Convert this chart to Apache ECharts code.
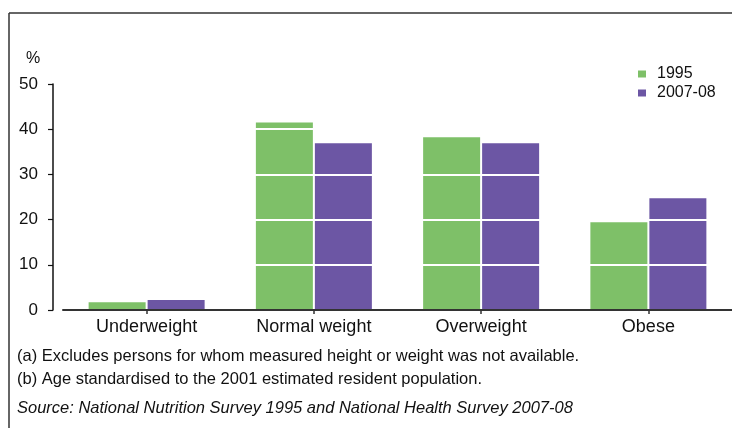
<!DOCTYPE html>
<html>
<head>
<meta charset="utf-8">
<script src="https://cdn.jsdelivr.net/npm/echarts@6/dist/echarts.min.js"></script>
<style>
  html, body { margin: 0; padding: 0; background: #fff; }
  #chart { width: 732px; height: 428px; }
</style>
</head>
<body>
<div id="chart"></div>
<script>
// Body weight classification, persons (%), 1995 and 2007-08
const categories = ['Underweight', 'Normal weight', 'Overweight', 'Obese'];
const values1995 = [1.7, 41.5, 38.2, 19.4];
const values2007 = [2.2, 36.9, 36.9, 24.7];
const seriesNames = ['1995', '2007-08'];
const yTicks = [0, 10, 20, 30, 40, 50];
const footnotes = [
  '(a) Excludes persons for whom measured height or weight was not available.',
  '(b) Age standardised to the 2001 estimated resident population.'
];
const sourceNote = 'Source: National Nutrition Survey 1995 and National Health Survey 2007-08';

const FONT = '"Liberation Sans", Arial, sans-serif';
const GREEN = '#7ec068';
const PURPLE = '#6c56a4';

const chart = echarts.init(document.getElementById('chart'), null, { renderer: 'canvas' });

chart.setOption({
  animation: false,
  backgroundColor: '#fff',
  textStyle: { fontFamily: FONT, color: '#111' },
  grid: { left: 63, right: -4, top: 84, bottom: 118, containLabel: false },
  legend: {
    orient: 'vertical',
    left: 633,
    top: 61,
    itemWidth: 8,
    itemHeight: 7,
    itemGap: 3,
    icon: 'rect',
    data: seriesNames,
    textStyle: { fontFamily: FONT, fontSize: 16, color: '#111', padding: [0, 0, 0, 6] }
  },
  xAxis: {
    type: 'category',
    data: categories,
    z: 6,
    axisLine: { show: true, lineStyle: { color: '#333', width: 2 } },
    axisTick: { show: true, alignWithLabel: true, length: 4, lineStyle: { color: '#333', width: 1.5 } },
    axisLabel: { fontFamily: FONT, fontSize: 18, color: '#111', margin: 8 },
    splitLine: { show: false }
  },
  yAxis: {
    type: 'value',
    min: yTicks[0],
    max: yTicks[yTicks.length - 1],
    interval: 10,
    offset: 10,
    z: 5,
    axisLine: { show: true, lineStyle: { color: '#111', width: 1.5 } },
    axisTick: { show: true, length: 5, lineStyle: { color: '#111', width: 1.2 } },
    axisLabel: { fontFamily: FONT, fontSize: 17, color: '#111', margin: 15 },
    splitLine: {
      show: true,
      showMinLine: false,
      showMaxLine: false,
      lineStyle: { color: '#ffffff', width: 2 }
    }
  },
  series: [
    {
      name: seriesNames[0],
      type: 'bar',
      data: values1995,
      barWidth: 57,
      barGap: '3.5%',
      itemStyle: { color: GREEN }
    },
    {
      name: seriesNames[1],
      type: 'bar',
      data: values2007,
      barWidth: 57,
      barGap: '3.5%',
      itemStyle: { color: PURPLE }
    }
  ],
  graphic: [
    { type: 'line', shape: { x1: 9, y1: 13, x2: 732, y2: 13 }, style: { stroke: '#333', lineWidth: 1.5 } },
    { type: 'line', shape: { x1: 9, y1: 13, x2: 9, y2: 428 }, style: { stroke: '#333', lineWidth: 1.5 } },
    { type: 'text', left: 26, top: 51, style: { text: '%', font: '16px ' + FONT, fill: '#111' } },
    { type: 'text', left: 17, top: 348, style: { text: footnotes[0], font: '16.5px ' + FONT, fill: '#111' } },
    { type: 'text', left: 17, top: 371, style: { text: footnotes[1], font: '16.5px ' + FONT, fill: '#111' } },
    { type: 'text', left: 17, top: 400, style: { text: sourceNote, font: 'italic 16.5px ' + FONT, fill: '#111' } }
  ]
});
</script>
</body>
</html>
